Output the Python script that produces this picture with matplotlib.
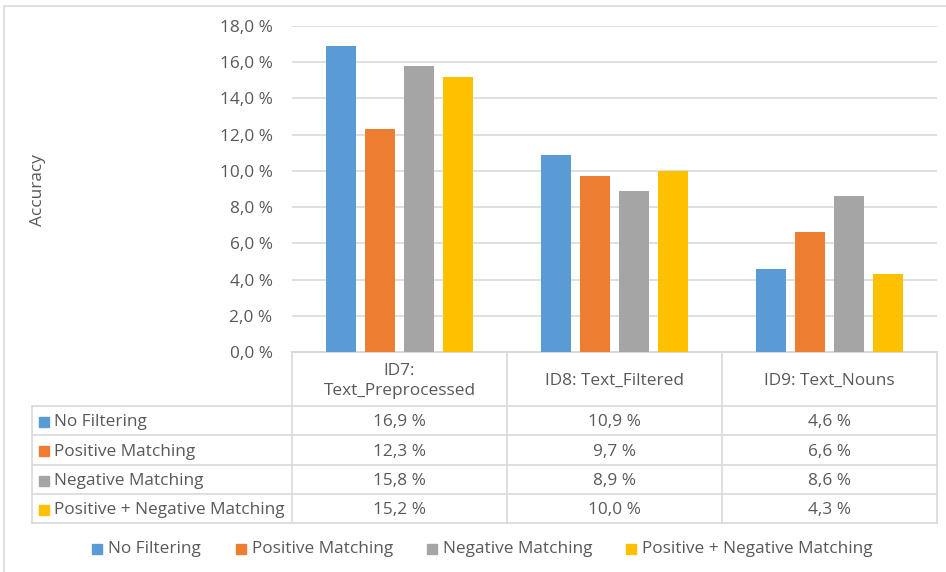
import matplotlib
matplotlib.use("Agg")
import matplotlib.pyplot as plt
from matplotlib.patches import Rectangle
import matplotlib.transforms as mtransforms
import numpy as np

categories = ["ID7:\nText_Preprocessed", "ID8: Text_Filtered", "ID9: Text_Nouns"]
series_names = ["No Filtering", "Positive Matching", "Negative Matching",
                "Positive + Negative Matching"]
no_filtering = [16.9, 10.9, 4.6]
positive_matching = [12.3, 9.7, 6.6]
negative_matching = [15.8, 8.9, 8.6]
pos_neg_matching = [15.2, 10.0, 4.3]
series_values = [no_filtering, positive_matching, negative_matching, pos_neg_matching]
colors = ["#5B9BD5", "#ED7D31", "#A5A5A5", "#FFC000"]
yticks = [0, 2, 4, 6, 8, 10, 12, 14, 16, 18]

plt.rcParams['font.family'] = ['Open Sans', 'DejaVu Sans']
TXT = "#595959"
LINE = "#D9D9D9"
FS = 12.4

W, H = 946, 572
fig = plt.figure(figsize=(W / 100, H / 100), dpi=100)

def fx(px):
    return px / W

def fy(py):
    return 1 - py / H

# outer border
fig.patches.append(Rectangle((fx(4), fy(600)), fx(960) - fx(4), fy(5.5) - fy(600),
                             transform=fig.transFigure, fill=False,
                             edgecolor=LINE, linewidth=1.2))

ax_l, ax_r, ax_t, ax_b = 292, 937, 26, 352
ax = fig.add_axes([fx(ax_l), fy(ax_b), fx(ax_r) - fx(ax_l), fy(ax_t) - fy(ax_b)])

n = len(series_values)
x = np.arange(len(categories))
bw = 0.14
step = 0.181
for i, (vals, c) in enumerate(zip(series_values, colors)):
    ax.bar(x + (i - (n - 1) / 2) * step, vals, width=bw, color=c, zorder=3)

ax.set_xlim(-0.5, len(categories) - 0.5)
ax.set_ylim(0, 18)
ax.set_yticks(yticks)
ax.set_yticklabels([f"{t:.1f} %".replace(".", ",") for t in yticks],
                   fontsize=FS, color=TXT)
ax.tick_params(axis='y', length=0, pad=14)
ax.set_xticks([])
ax.grid(axis='y', color=LINE, linewidth=1.2, zorder=0)
for s in ["top", "right", "left"]:
    ax.spines[s].set_visible(False)
ax.spines["bottom"].set_color(LINE)
ax.spines["bottom"].set_linewidth(1.2)

fig.text(fx(38), fy(190), "Accuracy", rotation=90, ha='center', va='center',
         fontsize=FS, color=TXT)

# data table
trans = mtransforms.blended_transform_factory(ax.transData, fig.transFigure)
row_edges = [352, 406, 435, 465, 494, 523]
col_edges = [-0.5, 0.5, 1.5, 2.5]
left_px = 32

def hline(y_px, x0_data, x1_data=2.5):
    ax.plot([x0_data, x1_data], [fy(y_px), fy(y_px)], transform=trans,
            color=LINE, lw=1.2, clip_on=False)

def vline(x_data, y0, y1):
    ax.plot([x_data, x_data], [fy(y0), fy(y1)], transform=trans,
            color=LINE, lw=1.2, clip_on=False)

for k, yp in enumerate(row_edges):
    if k == 0:
        hline(yp, -0.5)
    else:
        fig.add_artist(plt.Line2D([fx(left_px), fx(ax_r)], [fy(yp), fy(yp)],
                                  color=LINE, lw=1.2))
for cx in col_edges:
    vline(cx, row_edges[0], row_edges[-1])
fig.add_artist(plt.Line2D([fx(left_px), fx(left_px)], [fy(row_edges[1]), fy(row_edges[-1])],
                          color=LINE, lw=1.2))

for ci, cat in enumerate(categories):
    ax.text(ci, fy((row_edges[0] + row_edges[1]) / 2 + 2), cat, transform=trans,
            ha='center', va='center', fontsize=FS, color=TXT, linespacing=1.35)

for ri, (name, vals, c) in enumerate(zip(series_names, series_values, colors)):
    ymid = (row_edges[ri + 1] + row_edges[ri + 2]) / 2
    yc = fy(ymid + 1.5)
    fig.patches.append(Rectangle((fx(39), fy(ymid + 6)), 10 / W, 10 / H,
                                 transform=fig.transFigure, color=c))
    fig.text(fx(54), yc, name, ha='left', va='center', fontsize=FS, color=TXT)
    for ci, v in enumerate(vals):
        ax.text(ci, yc, f"{v:.1f} %".replace(".", ","), transform=trans,
                ha='center', va='center', fontsize=FS, color=TXT)

leg_y = fy(549)
leg_x = [92, 236, 427, 626]
for lx, name, c in zip(leg_x, series_names, colors):
    fig.patches.append(Rectangle((fx(lx), fy(554)), 10 / W, 10 / H,
                                 transform=fig.transFigure, color=c))
    fig.text(fx(lx + 16), leg_y, name, ha='left', va='center', fontsize=FS, color=TXT)

fig.savefig("out.png", dpi=100)
